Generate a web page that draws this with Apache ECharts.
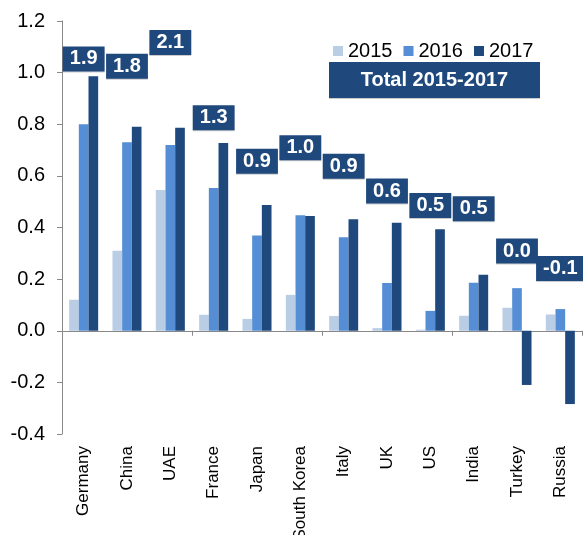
<!DOCTYPE html>
<html>
<head>
<meta charset="utf-8">
<script src="https://cdn.jsdelivr.net/npm/echarts@6/dist/echarts.min.js"></script>
<style>
    html, body { margin: 0; padding: 0; background: #fff; }
    #chart { width: 583px; height: 535px; }
</style>
</head>
<body>
<div id="chart"></div>
<script>
// 国家
const countries = ['Germany', 'China', 'UAE', 'France', 'Japan', 'South Korea', 'Italy', 'UK', 'US', 'India', 'Turkey', 'Russia'];
// 各年数值
const values2015 = [0.12, 0.31, 0.545, 0.062, 0.046, 0.139, 0.057, 0.01, 0.004, 0.058, 0.089, 0.063];
const values2016 = [0.80, 0.73, 0.72, 0.553, 0.369, 0.447, 0.362, 0.185, 0.077, 0.186, 0.165, 0.084];
const values2017 = [0.986, 0.79, 0.786, 0.727, 0.487, 0.445, 0.432, 0.418, 0.393, 0.217, -0.21, -0.284];
// 2015-2017 合计
const totals = [1.90, 1.83, 2.06, 1.33, 0.91, 1.04, 0.86, 0.62, 0.48, 0.45, 0.04, -0.13];
// y轴刻度
const yTicks = { min: -0.4, max: 1.2, interval: 0.2 };

const font = 'Liberation Sans, Arial, sans-serif';
const colors = ['#B9CDE5', '#558ED5', '#1F497D'];

let myChart = echarts.init(document.getElementById('chart'));
let option = {
    animation: false,
    textStyle: { fontFamily: font },
    color: colors,
    grid: { left: 62, right: 1, top: 21, bottom: 101, outerBoundsMode: 'none', containLabel: false },
    legend: {
        left: 328,
        top: 36,
        icon: 'rect',
        itemWidth: 10,
        itemHeight: 10,
        itemGap: 11,
        data: ['2015', '2016', '2017'],
        textStyle: { fontSize: 20, color: '#000', fontFamily: font }
    },
    graphic: [
        {
            type: 'rect',
            shape: { x: 329, y: 62, width: 211, height: 36 },
            style: { fill: '#1F497D', shadowColor: 'rgba(0,0,0,0.2)', shadowOffsetY: 1 }
        },
        {
            type: 'text',
            x: 434.5,
            y: 80,
            style: {
                text: 'Total 2015-2017',
                fill: '#fff',
                font: 'bold 20px ' + font,
                align: 'center',
                verticalAlign: 'middle'
            }
        }
    ],
    xAxis: [
        {
            type: 'category',
            data: countries,
            axisLine: { onZero: true, lineStyle: { color: '#888' } },
            axisTick: { show: true, length: 5, lineStyle: { color: '#888' } },
            axisLabel: { show: false }
        },
        {
            type: 'category',
            data: countries,
            position: 'bottom',
            axisLine: { show: false, onZero: false },
            axisTick: { show: false },
            axisLabel: { rotate: 90, margin: 12, fontSize: 17, color: '#000', fontFamily: font }
        }
    ],
    yAxis: [
        {
            type: 'value',
            min: yTicks.min,
            max: yTicks.max,
            interval: yTicks.interval,
            axisLine: { show: true, lineStyle: { color: '#888' } },
            axisTick: { show: true, length: 5, lineStyle: { color: '#888' } },
            splitLine: { show: false },
            axisLabel: {
                fontSize: 20,
                color: '#000',
                margin: 17,
                fontFamily: font,
                formatter: (v) => v.toFixed(1)
            }
        },
        {
            type: 'value',
            show: false,
            min: -1.5,
            max: 2.5
        }
    ],
    series: [
        { name: '2015', type: 'bar', data: values2015, barGap: 0, barCategoryGap: '33%' },
        { name: '2016', type: 'bar', data: values2016, barGap: 0, barCategoryGap: '33%' },
        { name: '2017', type: 'bar', data: values2017, barGap: 0, barCategoryGap: '33%' },
        {
            name: 'Total',
            type: 'scatter',
            yAxisIndex: 1,
            data: totals,
            symbolSize: 1,
            itemStyle: { color: 'rgba(0,0,0,0)', opacity: 1 },
            label: {
                show: true,
                position: 'top',
                distance: 11,
                formatter: (p) => p.value.toFixed(1),
                backgroundColor: '#1F497D',
                color: '#fff',
                fontWeight: 'bold',
                fontSize: 20,
                lineHeight: 17,
                padding: [4, 7],
                fontFamily: font,
                shadowColor: 'rgba(0,0,0,0.2)',
                shadowOffsetY: 1
            }
        }
    ]
};
myChart.setOption(option);
</script>
</body>
</html>
